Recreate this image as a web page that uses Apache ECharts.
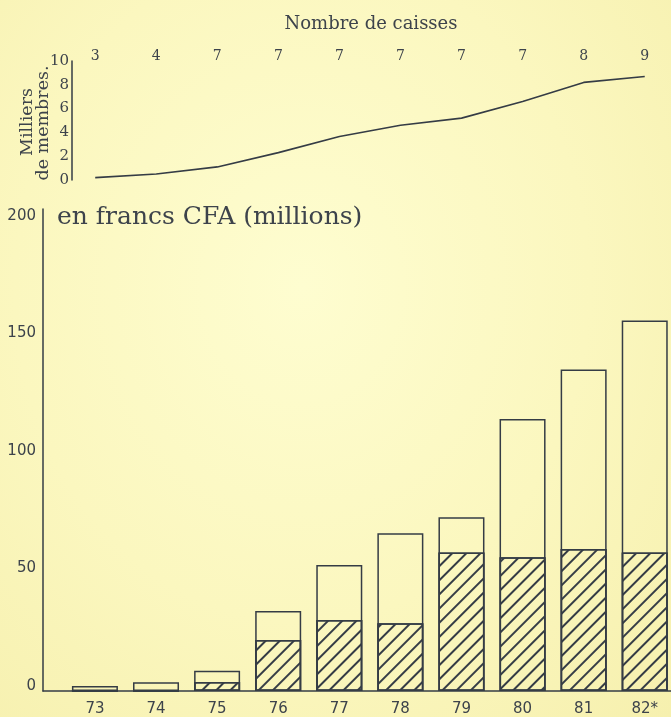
<!DOCTYPE html>
<html>
<head>
<meta charset="utf-8">
<script src="https://cdn.jsdelivr.net/npm/echarts@6/dist/echarts.min.js"></script>
<style>
    html, body { margin: 0; padding: 0; }
    body {
        width: 671px; height: 717px;
        background: radial-gradient(ellipse at 45% 40%, #fefdd0 0%, #fbf7bf 55%, #f6f0ae 100%);
    }
    #chart { width: 671px; height: 717px; }
</style>
</head>
<body>
<div id="chart"></div>
<script>
// years (x positions shared by both panels)
var years = [73, 74, 75, 76, 77, 78, 79, 80, 81, 82];
var yearLabels = ['73', '74', '75', '76', '77', '78', '79', '80', '81', '82*'];
// top panel: number of caisses and members (thousands)
var caisses = [3, 4, 7, 7, 7, 7, 7, 7, 8, 9];
var membres = [0.2, 0.5, 1.1, 2.3, 3.65, 4.6, 5.2, 6.6, 8.2, 8.7];
// bottom panel: amounts in millions CFA (total and hatched part)
var totals = [2.1, 3.7, 8.6, 34, 53.6, 67.1, 73.9, 115.7, 136.7, 157.6];
var hatched = [0, 0, 3.8, 21.7, 30.2, 28.8, 58.9, 56.9, 60.4, 58.9];
var yTicksBottom = [0, 50, 100, 150, 200];
var yTicksTop = [0, 2, 4, 6, 8, 10];

var ink = '#353c45';
var textCol = '#3d434b';
var serif = '"DejaVu Serif", serif';
var sans = '"DejaVu Sans", sans-serif';

var EC_CaissesChart = function () {
    var _build = function () {
        var dom = document.getElementById('chart');
        var myChart = echarts.init(dom, null, { renderer: 'canvas' });

        var lineData = [];
        var totalData = [];
        var hatchData = [];
        for (var i = 0; i < years.length; i++) {
            lineData.push([years[i], membres[i]]);
            totalData.push([years[i], totals[i]]);
            hatchData.push([years[i], hatched[i]]);
        }

        var option = {
            backgroundColor: 'transparent',
            animation: false,
            title: {
                text: 'Nombre de caisses',
                left: 366, top: 10,
                textAlign: 'center',
                textStyle: { fontFamily: serif, fontSize: 18, fontWeight: 'normal', color: textCol }
            },
            graphic: [
                {
                    type: 'text', x: 27, y: 122, rotation: Math.PI / 2,
                    style: { text: 'Milliers', fontFamily: serif, fontSize: 17.5, fill: textCol, align: 'center', verticalAlign: 'middle' }
                },
                {
                    type: 'text', x: 43, y: 123, rotation: Math.PI / 2,
                    style: { text: 'de membres.', fontFamily: serif, fontSize: 17.5, fill: textCol, align: 'center', verticalAlign: 'middle' }
                },
                {
                    type: 'text', x: 57, y: 217,
                    style: { text: 'en francs CFA (millions)', fontFamily: serif, fontSize: 25, fill: textCol, align: 'left', verticalAlign: 'middle' }
                }
            ],
            grid: [
                { left: 72, right: 0, top: 61, height: 119 },
                { left: 43, right: 0, top: 209, bottom: 26 }
            ],
            xAxis: [
                {
                    gridIndex: 0, type: 'value', position: 'top',
                    min: 72.62, max: 82.43,
                    axisLine: { show: false, onZero: false },
                    axisTick: { show: false },
                    splitLine: { show: false },
                    axisLabel: {
                        customValues: years, margin: -2,
                        fontFamily: serif, fontSize: 14, color: textCol,
                        formatter: function (v) { return String(caisses[years.indexOf(v)]); }
                    }
                },
                {
                    gridIndex: 1, type: 'value',
                    min: 72.15, max: 82.43,
                    axisLine: { show: true, onZero: false, lineStyle: { color: ink, width: 1.5 } },
                    axisTick: { show: false },
                    splitLine: { show: false },
                    axisLabel: {
                        customValues: years, margin: 11,
                        fontFamily: sans, fontSize: 15, color: textCol,
                        formatter: function (v) { return yearLabels[years.indexOf(v)]; }
                    }
                }
            ],
            yAxis: [
                {
                    gridIndex: 0, type: 'value', min: 0, max: 10,
                    axisLine: { show: true, lineStyle: { color: ink, width: 1.5 } },
                    axisTick: { show: false },
                    splitLine: { show: false },
                    axisLabel: {
                        customValues: yTicksTop, margin: 3,
                        fontFamily: serif, fontSize: 15, color: textCol
                    }
                },
                {
                    gridIndex: 1, type: 'value', min: 0, max: 205,
                    axisLine: { show: true, lineStyle: { color: ink, width: 1.5 } },
                    axisTick: { show: false },
                    splitLine: { show: false },
                    axisLabel: {
                        customValues: yTicksBottom, margin: 7,
                        verticalAlign: 'bottom', lineHeight: 10,
                        fontFamily: sans, fontSize: 15, color: textCol
                    }
                }
            ],
            series: [
                {
                    type: 'line', xAxisIndex: 0, yAxisIndex: 0,
                    data: lineData,
                    showSymbol: false,
                    lineStyle: { color: ink, width: 1.6 }
                },
                {
                    // full bar outline (total)
                    type: 'bar', xAxisIndex: 1, yAxisIndex: 1,
                    barWidth: 46, barGap: '-100%',
                    data: totalData,
                    itemStyle: { color: 'rgba(0,0,0,0)', borderColor: ink, borderWidth: 1.5 }
                },
                {
                    // hatched lower part
                    type: 'bar', xAxisIndex: 1, yAxisIndex: 1,
                    barWidth: 46, barGap: '-100%',
                    data: hatchData,
                    itemStyle: {
                        color: 'rgba(0,0,0,0)',
                        borderColor: ink, borderWidth: 1.5,
                        decal: {
                            symbol: 'rect', symbolSize: 1,
                            dashArrayX: [1, 0], dashArrayY: [1.1, 7.6],
                            rotation: -Math.PI / 4,
                            color: ink, backgroundColor: null
                        }
                    }
                }
            ]
        };

        myChart.setOption(option);
        window.addEventListener('resize', function () {
            myChart.resize();
        });
    };

    return {
        init: function () {
            _build();
        }
    };
}();

document.addEventListener('DOMContentLoaded', function () {
    EC_CaissesChart.init();
});
</script>
</body>
</html>
